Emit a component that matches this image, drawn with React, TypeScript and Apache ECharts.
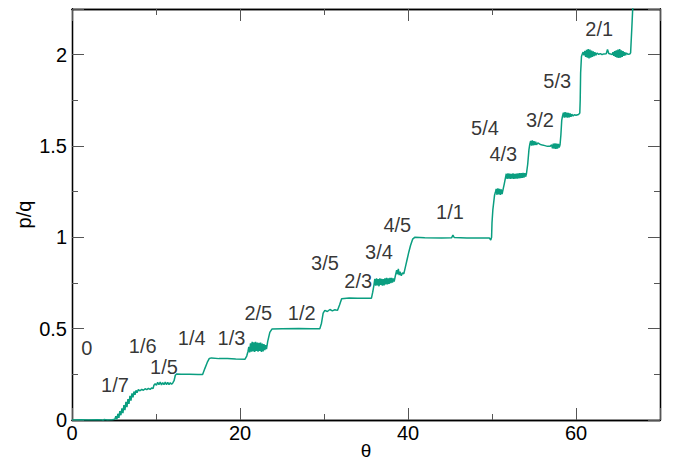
import React, { useEffect, useRef } from "react";
import * as echarts from "echarts";

const FONT = "'Liberation Sans', Helvetica, Arial, sans-serif";
const LINE_COLOR = "#0a9e80";

// axis ranges and tick spacing
const X_MIN = 0;
const X_MAX = 70;
const X_MAJOR = 20;
const X_MINOR = 10;
const Y_MIN = 0;
const Y_MAX = 2.25;
const Y_MAJOR = 0.5;
const Y_MINOR = 0.25;

// curve: [theta, p/q]
const segZeroTo17: [number, number][] = [
  [0, 0], [1, 0.001], [2, 0], [3, 0.002], [3.6, 0], [3.7, -0.01], [3.8, 0.003], [4.2, 0], [4.8, 0.002],
  [5.1, 0.004], [5.22, 0.02], [5.34, 0.004], [5.46, 0.034], [5.58, 0.012], [5.7, 0.048], [5.82, 0.026],
  [5.94, 0.064], [6.06, 0.038], [6.18, 0.082], [6.3, 0.054], [6.42, 0.099], [6.54, 0.071], [6.66, 0.114],
  [6.78, 0.088], [6.9, 0.132], [7.02, 0.106], [7.14, 0.146], [7.26, 0.124], [7.38, 0.156], [7.5, 0.138],
  [7.62, 0.162], [7.74, 0.15],
];
const segSixthFifth: [number, number][] = [
  [7.9, 0.166], [8.1, 0.16], [8.3, 0.168], [8.5, 0.163], [8.7, 0.171], [8.9, 0.166], [9.1, 0.173],
  [9.3, 0.168], [9.5, 0.176], [9.65, 0.172], [9.75, 0.19], [9.9, 0.198],
  [10.05, 0.19], [10.2, 0.206], [10.35, 0.193], [10.5, 0.208], [10.65, 0.192], [10.8, 0.205],
  [10.95, 0.193], [11.1, 0.207], [11.25, 0.194], [11.4, 0.206], [11.55, 0.193], [11.7, 0.205],
  [11.85, 0.195], [12.0, 0.203],
];
const segQuarterThird: [number, number][] = [
  [12.15, 0.215], [12.3, 0.245], [12.45, 0.252], [13, 0.251], [14, 0.25], [15, 0.249], [15.55, 0.249],
  [15.8, 0.28], [16.1, 0.315], [16.35, 0.337], [16.6, 0.34], [17.5, 0.336], [18.5, 0.336], [19.5, 0.334],
  [20.6, 0.333],
];
const segTwoFifths: [number, number][] = [
  [20.8, 0.35], [20.95, 0.375], [21.05, 0.4], [21.15, 0.37], [21.25, 0.42], [21.35, 0.374],
  [21.45, 0.428], [21.55, 0.376], [21.65, 0.425], [21.75, 0.372], [21.85, 0.428], [21.95, 0.378],
  [22.05, 0.424], [22.15, 0.374], [22.25, 0.422], [22.35, 0.378], [22.45, 0.424], [22.55, 0.372],
  [22.65, 0.418], [22.75, 0.376], [22.85, 0.415], [22.95, 0.382], [23.05, 0.41], [23.15, 0.388],
];
const segHalfToTwoThirds: [number, number][] = [
  [23.3, 0.43], [23.55, 0.48], [23.8, 0.498], [25, 0.5], [27, 0.501], [28.5, 0.499], [29.5, 0.499],
  [29.7, 0.53], [29.9, 0.585], [30.1, 0.6], [30.4, 0.594], [30.7, 0.605], [31.0, 0.597], [31.3, 0.604],
  [31.6, 0.6], [31.85, 0.63], [32.1, 0.664], [33, 0.668], [34, 0.667], [35, 0.666], [35.65, 0.667],
];
const segThreeQuarters: [number, number][] = [
  [35.8, 0.7], [35.95, 0.74], [36.05, 0.772], [36.15, 0.735], [36.25, 0.775], [36.35, 0.737], [36.45, 0.771],
  [36.55, 0.732], [36.65, 0.775], [36.75, 0.739], [36.85, 0.773], [36.95, 0.735], [37.05, 0.771],
  [37.15, 0.737], [37.25, 0.775], [37.35, 0.742], [37.45, 0.778], [37.55, 0.742], [37.65, 0.775],
  [37.75, 0.745], [37.85, 0.778], [37.95, 0.749], [38.05, 0.778], [38.15, 0.752], [38.25, 0.775],
  [38.35, 0.758], [38.5, 0.79], [38.65, 0.82], [38.75, 0.798], [38.85, 0.827], [38.95, 0.793],
  [39.05, 0.812], [39.2, 0.79], [39.35, 0.806], [39.5, 0.8],
];
const segOne: [number, number][] = [
  [39.7, 0.84], [39.9, 0.88], [40.1, 0.92], [40.3, 0.955], [40.55, 0.99], [40.8, 1.0], [42, 0.998],
  [44, 0.997], [45.2, 0.998], [45.35, 1.012], [45.5, 0.999], [47, 0.997], [49.7, 0.996], [49.85, 0.985],
];
const segFourThirds: [number, number][] = [
  [49.95, 1.0], [50.0, 1.08], [50.1, 1.15], [50.2, 1.19], [50.3, 1.23], [50.4, 1.245],
  [50.5, 1.265], [50.6, 1.233], [50.7, 1.268], [50.8, 1.235], [50.9, 1.265], [51.0, 1.233], [51.1, 1.263],
  [51.2, 1.237], [51.3, 1.258], [51.45, 1.29], [51.6, 1.325],
  [51.7, 1.348], [51.8, 1.32], [51.9, 1.35], [52.0, 1.321], [52.1, 1.349], [52.2, 1.32], [52.3, 1.348],
  [52.4, 1.322], [52.5, 1.35], [52.6, 1.32], [52.7, 1.348], [52.8, 1.322], [52.9, 1.349], [53.0, 1.321],
  [53.1, 1.35], [53.2, 1.323], [53.3, 1.351], [53.4, 1.324], [53.5, 1.351], [53.6, 1.325], [53.7, 1.353],
  [53.8, 1.327], [53.9, 1.351], [54.0, 1.332], [54.1, 1.348],
];
const segThreeHalves: [number, number][] = [
  [54.25, 1.4], [54.4, 1.48], [54.5, 1.51], [54.6, 1.528], [54.7, 1.502], [54.8, 1.531], [54.9, 1.503],
  [55.0, 1.527], [55.1, 1.505], [55.2, 1.523], [55.3, 1.506], [55.45, 1.517], [55.7, 1.51], [56.0, 1.505],
  [56.3, 1.502], [56.6, 1.498], [56.9, 1.498], [57.1, 1.506], [57.2, 1.487], [57.3, 1.513], [57.4, 1.485],
  [57.5, 1.515], [57.6, 1.484], [57.7, 1.513], [57.8, 1.485], [57.9, 1.511], [58.0, 1.492], [58.1, 1.507],
];
const segFiveThirds: [number, number][] = [
  [58.2, 1.56], [58.3, 1.64], [58.4, 1.665], [58.5, 1.683], [58.6, 1.655], [58.7, 1.685], [58.8, 1.657],
  [58.9, 1.683], [59.0, 1.655], [59.1, 1.681], [59.2, 1.657], [59.3, 1.678], [59.4, 1.66], [59.5, 1.674],
  [59.65, 1.664], [59.8, 1.671], [60.0, 1.668], [60.3, 1.672], [60.45, 1.68],
];
const segTwo: [number, number][] = [
  [60.5, 1.75], [60.55, 1.9], [60.65, 1.99], [60.75, 2.003], [60.85, 2.014], [60.95, 1.996],
  [61.05, 2.02], [61.15, 1.988], [61.25, 2.027], [61.35, 1.983], [61.45, 2.03], [61.55, 1.98],
  [61.65, 2.028], [61.75, 1.983], [61.85, 2.022], [61.95, 1.988], [62.05, 2.018], [62.15, 1.992],
  [62.25, 2.014], [62.35, 1.996], [62.5, 2.009], [62.7, 2.002], [62.9, 2.006], [63.1, 2.0], [63.3, 2.004],
  [63.6, 2.005], [63.75, 2.028], [63.9, 2.006], [64.1, 2.004], [64.3, 2.0], [64.4, 2.014], [64.5, 1.994],
  [64.6, 2.02], [64.7, 1.988], [64.8, 2.024], [64.9, 1.984], [65.0, 2.028], [65.1, 1.982], [65.2, 2.03],
  [65.3, 1.984], [65.4, 2.024], [65.5, 1.988], [65.6, 2.02], [65.7, 1.993], [65.8, 2.014], [65.9, 1.997],
  [66.0, 2.009], [66.2, 2.002], [66.4, 2.004], [66.5, 2.01], [66.65, 2.15], [66.8, 2.3],
];

// rational-number annotations
const labelText = ["0", "1/7", "1/6", "1/5", "1/4", "1/3", "2/5", "1/2", "3/5", "2/3", "3/4", "4/5", "1/1", "5/4", "4/3", "3/2", "5/3", "2/1"];
const labelTheta = [1.75, 5.12, 8.42, 10.95, 14.25, 18.99, 22.18, 27.35, 30.12, 34.08, 36.55, 38.73, 45.0, 49.17, 51.35, 55.71, 57.77, 62.77];
const labelPQ = [0.392, 0.192, 0.407, 0.288, 0.447, 0.447, 0.584, 0.584, 0.857, 0.763, 0.917, 1.067, 1.137, 1.596, 1.458, 1.645, 1.855, 2.143];

const curve = [
  ...segZeroTo17, ...segSixthFifth, ...segQuarterThird, ...segTwoFifths, ...segHalfToTwoThirds,
  ...segThreeQuarters, ...segOne, ...segFourThirds, ...segThreeHalves, ...segFiveThirds, ...segTwo,
];

const axisLineStyle = { color: "#000", width: 1.3 };
const tickStyle = { color: "#555", width: 1 };
const labelStyle = { color: "#000", fontSize: 20, fontFamily: FONT };

function makeX(position: string, interval: number, len: number, extra: any = {}) {
  return {
    type: "value", position, min: X_MIN, max: X_MAX, interval,
    axisLine: { show: true, onZero: false, lineStyle: axisLineStyle },
    axisTick: { show: true, inside: true, length: len, lineStyle: tickStyle },
    axisLabel: { show: false },
    splitLine: { show: false },
    ...extra,
  };
}
function makeY(position: string, interval: number, len: number, extra: any = {}) {
  return {
    type: "value", position, min: Y_MIN, max: Y_MAX, interval,
    axisLine: { show: true, onZero: false, lineStyle: axisLineStyle },
    axisTick: { show: true, inside: true, length: len, lineStyle: tickStyle },
    axisLabel: { show: false },
    splitLine: { show: false },
    ...extra,
  };
}

export default function App() {
  const ref = useRef<HTMLDivElement>(null);
  useEffect(() => {
    if (!ref.current) return;
    const chart = echarts.init(ref.current, null, { renderer: "svg" });
    chart.setOption({
      animation: false,
      backgroundColor: "#fff",
      grid: { left: 72, top: 9, right: 13, bottom: 44, containLabel: false, outerBoundsMode: "none" },
      xAxis: [
        makeX("bottom", X_MINOR, 6, {
          name: "θ", nameLocation: "middle", nameGap: 21, nameMoveOverlap: false,
          nameTextStyle: { ...labelStyle, fontSize: 19, lineHeight: 19 },
          axisLabel: {
            show: true, margin: 3, ...labelStyle,
            formatter: (v: number) => (v % X_MAJOR === 0 ? String(v) : ""),
          },
        }),
        makeX("bottom", X_MAJOR, 12),
        makeX("top", X_MINOR, 6),
        makeX("top", X_MAJOR, 12),
      ],
      yAxis: [
        makeY("left", Y_MINOR, 6, {
          name: "p/q", nameLocation: "middle", nameGap: 38, nameMoveOverlap: false,
          nameTextStyle: { ...labelStyle },
          axisLabel: {
            show: true, margin: 5, ...labelStyle,
            formatter: (v: number) => {
              const k = v / Y_MAJOR;
              return Math.abs(k - Math.round(k)) < 1e-9 && v <= 2 ? String(v) : "";
            },
          },
        }),
        makeY("left", Y_MAJOR, 12),
        makeY("right", Y_MINOR, 6),
        makeY("right", Y_MAJOR, 12),
      ],
      series: [
        {
          type: "line",
          xAxisIndex: 0,
          yAxisIndex: 0,
          data: curve,
          showSymbol: false,
          symbol: "none",
          clip: true,
          lineStyle: { color: LINE_COLOR, width: 1.5 },
          z: 3,
        },
        {
          type: "scatter",
          xAxisIndex: 0,
          yAxisIndex: 0,
          symbolSize: 1,
          itemStyle: { color: "rgba(0,0,0,0)" },
          data: labelText.map((t, i) => ({ name: t, value: [labelTheta[i], labelPQ[i]] })),
          label: {
            show: true, position: "inside", formatter: "{b}",
            ...labelStyle,
          },
          z: 4,
        },
      ],
    });
    return () => chart.dispose();
  }, []);
  return <div ref={ref} style={{ position: "absolute", left: 0, top: 0, width: 673, height: 464 }} />;
}
